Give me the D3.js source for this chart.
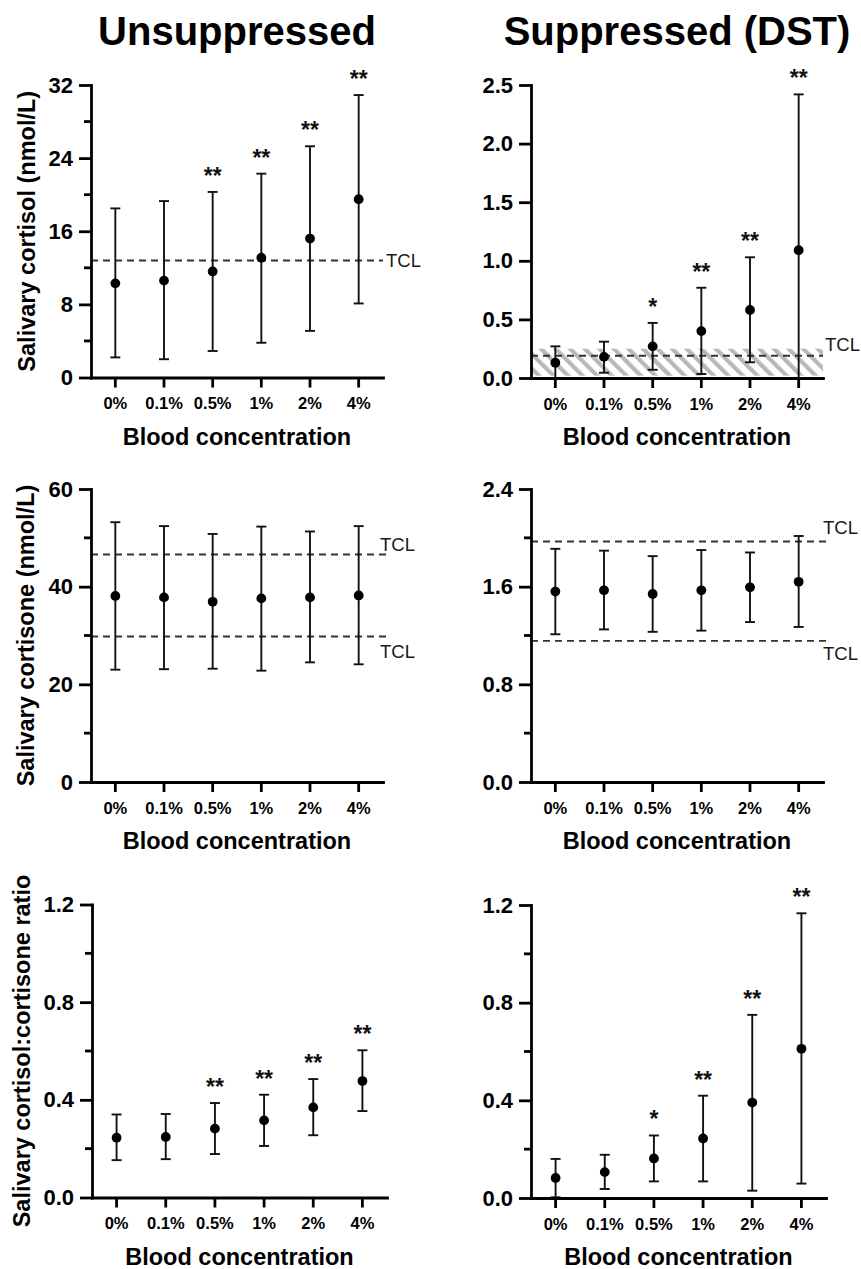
<!DOCTYPE html>
<html>
<head>
<meta charset="utf-8">
<script src="https://cdn.jsdelivr.net/npm/d3@7"></script>
<style>
body{margin:0;background:#fff;}
svg{font-family:Arial,'Liberation Sans',sans-serif;}
.axis{font-family:Arial,'Liberation Sans',sans-serif;}
.axis path,.axis line{stroke:#000;stroke-width:2.8;}
.axis path{stroke-linecap:square;}
.axis text{font-weight:bold;fill:#000;}
</style>
</head>
<body>
<div class="plot"></div>
<script>
var categories = ['0%','0.1%','0.5%','1%','2%','4%'];

// salivary cortisol, unsuppressed
var cortisolUnsupMean = [10.3, 10.6, 11.6, 13.1, 15.2, 19.5];
var cortisolUnsupLow  = [2.2, 2.0, 2.9, 3.8, 5.1, 8.1];
var cortisolUnsupHigh = [18.5, 19.3, 20.3, 22.3, 25.3, 30.9];
var cortisolUnsupStars = ['', '', '**', '**', '**', '**'];
var cortisolUnsupTCL = [12.8];

// salivary cortisol, suppressed (DST)
var cortisolSupMean = [0.13, 0.18, 0.27, 0.40, 0.58, 1.09];
var cortisolSupLow  = [0.0, 0.045, 0.07, 0.034, 0.134, 0.0];
var cortisolSupHigh = [0.27, 0.31, 0.47, 0.77, 1.03, 2.42];
var cortisolSupStars = ['', '', '*', '**', '**', '**'];
var cortisolSupTCL = [0.19];
var cortisolSupTCLBand = [0.02, 0.25];

// salivary cortisone
var cortisoneUnsupMean = [38.1, 37.8, 36.9, 37.6, 37.8, 38.2];
var cortisoneUnsupLow  = [23.0, 23.1, 23.2, 22.8, 24.5, 24.1];
var cortisoneUnsupHigh = [53.2, 52.4, 50.8, 52.3, 51.3, 52.4];
var cortisoneUnsupTCL = [46.6, 29.8];

var cortisoneSupMean = [1.56, 1.57, 1.54, 1.57, 1.595, 1.64];
var cortisoneSupLow  = [1.21, 1.25, 1.23, 1.24, 1.31, 1.27];
var cortisoneSupHigh = [1.91, 1.895, 1.85, 1.90, 1.88, 2.015];
var cortisoneSupTCL = [1.97, 1.156];

// cortisol:cortisone ratio
var ratioUnsupMean = [0.245, 0.248, 0.282, 0.316, 0.369, 0.477];
var ratioUnsupLow  = [0.153, 0.157, 0.178, 0.211, 0.255, 0.354];
var ratioUnsupHigh = [0.34, 0.342, 0.387, 0.421, 0.485, 0.603];
var ratioUnsupStars = ['', '', '**', '**', '**', '**'];

var ratioSupMean = [0.082, 0.106, 0.162, 0.244, 0.391, 0.611];
var ratioSupLow  = [0.003, 0.037, 0.068, 0.068, 0.03, 0.059];
var ratioSupHigh = [0.16, 0.177, 0.256, 0.419, 0.75, 1.166];
var ratioSupStars = ['', '', '*', '**', '**', '**'];

// axis ticks
var ticksCortisolUnsup = [0, 8, 16, 24, 32],   minorCortisolUnsup = [4, 12, 20, 28];
var ticksCortisolSup = [0, 0.5, 1, 1.5, 2, 2.5], minorCortisolSup = [];
var ticksCortisoneUnsup = [0, 20, 40, 60],     minorCortisoneUnsup = [10, 30, 50];
var ticksCortisoneSup = [0, 0.8, 1.6, 2.4],    minorCortisoneSup = [0.4, 1.2, 2.0];
var ticksRatio = [0, 0.4, 0.8, 1.2],           minorRatio = [0.2, 0.6, 1.0];

var W = 861, H = 1269;

var svg = d3.select('.plot').append('svg')
    .attr('width', W)
    .attr('height', H);

svg.append('defs').append('pattern')
    .attr('id', 'hatch')
    .attr('patternUnits', 'userSpaceOnUse')
    .attr('width', 10.3)
    .attr('height', 10)
    .attr('patternTransform', 'rotate(-45)')
    .append('rect')
    .attr('width', 4.2)
    .attr('height', 10)
    .attr('fill', '#b8b8b8');

// column titles
svg.append('text').attr('x', 237).attr('y', 45).attr('text-anchor', 'middle')
    .style('font-size', '40px').style('font-weight', 'bold').text('Unsuppressed');
svg.append('text').attr('x', 677).attr('y', 45).attr('text-anchor', 'middle')
    .style('font-size', '40px').style('font-weight', 'bold').text('Suppressed (DST)');

var panels = [
    {left: 91, top: 85, bottom: 377.5, width: 292, domain: [0, 32], ticks: ticksCortisolUnsup, minor: minorCortisolUnsup, fmt: d3.format('d'),
     mean: cortisolUnsupMean, low: cortisolUnsupLow, high: cortisolUnsupHigh, stars: cortisolUnsupStars,
     tcl: cortisolUnsupTCL, tclDy: [6], tclDx: 3, tclExt: 0,
     yTitle: 'Salivary cortisol (nmol/L)', yTitleX: 35},
    {left: 531, top: 85, bottom: 378, width: 292, domain: [0, 2.5], ticks: ticksCortisolSup, minor: minorCortisolSup, fmt: d3.format('.1f'),
     mean: cortisolSupMean, low: cortisolSupLow, high: cortisolSupHigh, stars: cortisolSupStars,
     tcl: cortisolSupTCL, tclDy: [-5], tclDx: 2, tclExt: 0, band: cortisolSupTCLBand},
    {left: 91, top: 489, bottom: 782, width: 292, domain: [0, 60], ticks: ticksCortisoneUnsup, minor: minorCortisoneUnsup, fmt: d3.format('d'),
     mean: cortisoneUnsupMean, low: cortisoneUnsupLow, high: cortisoneUnsupHigh,
     tcl: cortisoneUnsupTCL, tclDy: [-3, 22], tclDx: -3, tclExt: 5,
     yTitle: 'Salivary cortisone (nmol/L)', yTitleX: 34},
    {left: 531, top: 489, bottom: 782, width: 292, domain: [0, 2.4], ticks: ticksCortisoneSup, minor: minorCortisoneSup, fmt: d3.format('.1f'),
     mean: cortisoneSupMean, low: cortisoneSupLow, high: cortisoneSupHigh,
     tcl: cortisoneSupTCL, tclDy: [-7, 19], tclDx: 0, tclExt: 6},
    {left: 92, top: 904.5, bottom: 1197.5, width: 295, domain: [0, 1.2], ticks: ticksRatio, minor: minorRatio, fmt: d3.format('.1f'),
     mean: ratioUnsupMean, low: ratioUnsupLow, high: ratioUnsupHigh, stars: ratioUnsupStars,
     yTitle: 'Salivary cortisol:cortisone ratio', yTitleX: 30},
    {left: 531, top: 905, bottom: 1198, width: 295, domain: [0, 1.2], ticks: ticksRatio, minor: minorRatio, fmt: d3.format('.1f'),
     mean: ratioSupMean, low: ratioSupLow, high: ratioSupHigh, stars: ratioSupStars}
];

panels.forEach(drawPanel);

function drawPanel(p){
    var g = svg.append('g');
    var right = p.left + p.width;

    var x = d3.scaleBand()
        .domain(categories)
        .range([p.left, right]);
    var y = d3.scaleLinear()
        .domain(p.domain)
        .range([p.bottom, p.top]);
    var cx = function(i){ return x(categories[i]) + x.bandwidth()/2; };

    // hatched TCL band
    if(p.band){
        g.append('rect')
            .attr('x', p.left + 1)
            .attr('width', p.width - 1)
            .attr('y', y(p.band[1]))
            .attr('height', y(p.band[0]) - y(p.band[1]))
            .attr('fill', 'url(#hatch)');
    }

    // TCL dashed lines
    if(p.tcl){
        g.selectAll('.tcl')
            .data(p.tcl)
            .enter()
            .append('line')
            .attr('class', 'tcl')
            .attr('x1', p.left)
            .attr('x2', right + p.tclExt)
            .attr('y1', function(d){ return y(d); })
            .attr('y2', function(d){ return y(d); })
            .attr('stroke', '#333')
            .attr('stroke-width', 1.9)
            .attr('stroke-dasharray', '7,5');

        g.selectAll('.tcl-label')
            .data(p.tcl)
            .enter()
            .append('text')
            .attr('class', 'tcl-label')
            .attr('x', right + p.tclDx)
            .attr('y', function(d, i){ return y(d) + p.tclDy[i]; })
            .style('font-size', '18.5px')
            .attr('fill', '#1a1a1a')
            .text('TCL');
    }

    // error bars
    var bars = g.selectAll('.bar')
        .data(p.mean)
        .enter()
        .append('g')
        .attr('class', 'bar')
        .attr('stroke', '#111')
        .attr('stroke-width', 1.9);

    bars.append('line')
        .attr('x1', function(d, i){ return cx(i); })
        .attr('x2', function(d, i){ return cx(i); })
        .attr('y1', function(d, i){ return y(p.low[i]); })
        .attr('y2', function(d, i){ return y(p.high[i]); });
    bars.append('line')
        .attr('x1', function(d, i){ return cx(i) - 5; })
        .attr('x2', function(d, i){ return cx(i) + 5; })
        .attr('y1', function(d, i){ return y(p.high[i]); })
        .attr('y2', function(d, i){ return y(p.high[i]); });
    bars.append('line')
        .attr('x1', function(d, i){ return cx(i) - 5; })
        .attr('x2', function(d, i){ return cx(i) + 5; })
        .attr('y1', function(d, i){ return y(p.low[i]); })
        .attr('y2', function(d, i){ return y(p.low[i]); });

    g.selectAll('.dot')
        .data(p.mean)
        .enter()
        .append('circle')
        .attr('class', 'dot')
        .attr('cx', function(d, i){ return cx(i); })
        .attr('cy', function(d){ return y(d); })
        .attr('r', 4.9)
        .attr('fill', '#000');

    if(p.stars){
        g.selectAll('.star')
            .data(p.stars)
            .enter()
            .append('text')
            .attr('class', 'star')
            .attr('x', function(d, i){ return cx(i); })
            .attr('y', function(d, i){ return y(p.high[i]) - 8; })
            .attr('text-anchor', 'middle')
            .style('font-size', '23px')
            .style('font-weight', 'bold')
            .attr('fill', '#111')
            .text(function(d){ return d; });
    }

    // axes
    var yAxis = g.append('g')
        .attr('class', 'axis')
        .attr('transform', 'translate(' + p.left + ',0)')
        .call(d3.axisLeft(y).tickValues(p.ticks).tickFormat(p.fmt).tickSize(12).tickSizeOuter(0).tickPadding(6));
    yAxis.selectAll('text').style('font-size', '22px');

    yAxis.selectAll('.minor')
        .data(p.minor)
        .enter()
        .append('line')
        .attr('class', 'minor')
        .attr('x1', -7)
        .attr('x2', 0)
        .attr('y1', function(d){ return y(d); })
        .attr('y2', function(d){ return y(d); });

    var xAxis = g.append('g')
        .attr('class', 'axis')
        .attr('transform', 'translate(0,' + p.bottom + ')')
        .call(d3.axisBottom(x).tickSize(10).tickSizeOuter(0).tickPadding(10));
    xAxis.selectAll('text').style('font-size', '16.5px');

    g.append('text')
        .attr('x', p.left + p.width/2)
        .attr('y', p.bottom + 67)
        .attr('text-anchor', 'middle')
        .style('font-size', '23.5px')
        .style('font-weight', 'bold')
        .text('Blood concentration');

    if(p.yTitle){
        g.append('text')
            .attr('transform', 'translate(' + p.yTitleX + ',' + (p.top + p.bottom)/2 + ') rotate(-90)')
            .attr('text-anchor', 'middle')
            .style('font-size', '23.5px')
            .style('font-weight', 'bold')
            .text(p.yTitle);
    }
}
</script>
</body>
</html>
